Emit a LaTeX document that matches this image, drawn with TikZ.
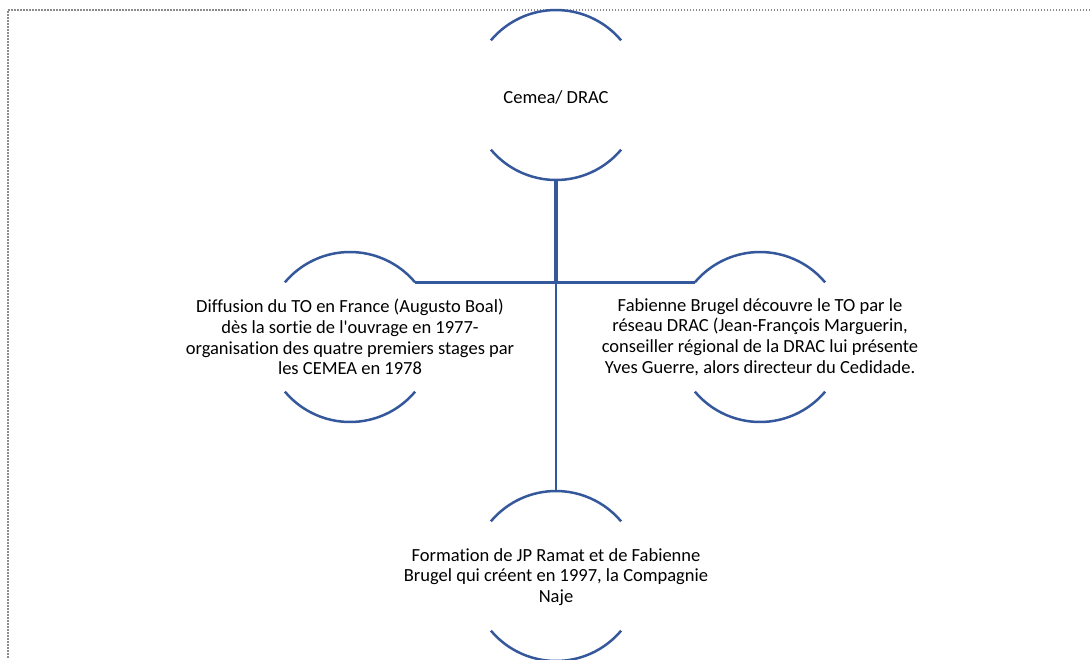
\documentclass[tikz,border=0pt]{standalone}
\usepackage{fontspec}
\setmainfont{Carlito}[Ligatures={NoCommon}]
\usetikzlibrary{positioning}

\definecolor{ringblue}{RGB}{52,88,155}
\definecolor{framegray}{RGB}{140,140,140}

\tikzset{
  ring/.style={circle, minimum size=170pt, inner sep=0pt, outer sep=0pt},
  arcline/.style={draw=ringblue, line width=2.5pt},
  link/.style={draw=ringblue, line width=2.6pt},
  txt/.style={align=center, font=\fontsize{18.5}{20.8}\selectfont, inner sep=0pt}
}

\begin{document}
\begin{tikzpicture}[x=1pt, y=-1pt]

    % Page size and dotted frame (cut off right and bottom)
    \useasboundingbox (0,0) rectangle (1090,659);
    \coordinate (frameTL) at (8,10);
    \coordinate (frameTR) at (1090,10);
    \coordinate (frameBL) at (8,659);
    \draw[framegray, line width=1.4pt, dash pattern=on 1.5pt off 1.5pt] (frameTR) -- (frameTL) -- (frameBL);

    % Rings
    \node[ring] (cemea) at (556,95) {};
    \node[ring] (diffusion) at (350,337) {};
    \node[ring] (brugel) at (760,337) {};
    \node[ring] (naje) at (556,576) {};

    % Connectors
    \coordinate (hub) at (cemea.south |- diffusion.40);
    \draw[link] (cemea.south) -- (naje.north);
    \draw[link, line width=4pt] (cemea.south) -- (hub);
    \draw[link] (diffusion.40) -- (brugel.140);

    % Open arcs of each ring
    \foreach \r in {cemea, diffusion, brugel, naje} {
        \draw[arcline] (\r.40) arc[start angle=40, end angle=140, radius=85pt];
        \draw[arcline] (\r.220) arc[start angle=220, end angle=320, radius=85pt];
    }

    % Texts
    \node[txt] at (556,97) {Cemea/ DRAC};
    \node[txt] at (350,337) {Diffusion du TO en France (Augusto Boal)\\
        dès la sortie de l\textquotesingle ouvrage en 1977-\\
        organisation des quatre premiers stages par\\
        les CEMEA en 1978};
    \node[txt] at (760,337) {Fabienne Brugel découvre le TO par le\\
        réseau DRAC (Jean-François Marguerin,\\
        conseiller régional de la DRAC lui présente\\
        Yves Guerre, alors directeur du Cedidade.};
    \node[txt] at (556,577) {Formation de JP Ramat et de Fabienne\\
        Brugel qui créent en 1997, la Compagnie\\
        Naje};

\end{tikzpicture}
\end{document}
